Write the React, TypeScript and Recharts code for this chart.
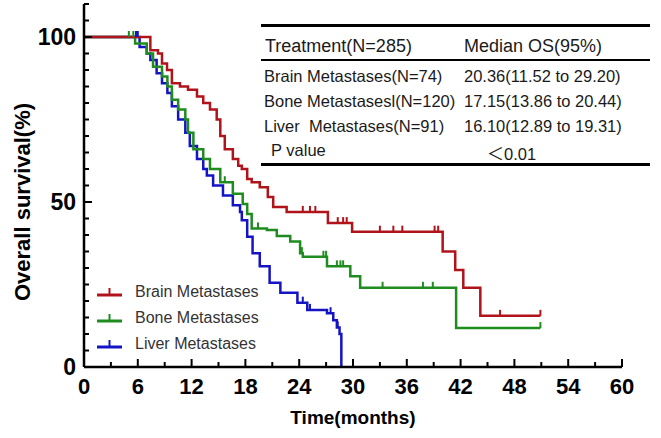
import React from 'react';
import { LineChart, Line, XAxis, YAxis } from 'recharts';

// Kaplan-Meier steps: [month, survival %]
const brainSteps: number[][] = [
  [0, 100], [7.4, 96], [8.25, 95], [8.7, 92], [9.26, 90], [9.8, 86], [10.7, 85], [11.6, 84],
  [12.6, 82], [13.3, 80], [14.05, 78], [14.8, 75], [15.2, 70], [15.7, 66], [16.6, 63],
  [17.2, 61], [17.6, 60], [18.2, 57], [18.7, 56], [19.6, 54.5], [20.5, 51.5], [21.1, 48.5],
  [22.6, 47], [27.2, 43.6], [29.9, 41], [40.0, 35], [41.4, 29.4], [42.3, 24], [44.2, 15.5],
];
const brainCensored: number[] = [24.4, 25.2, 25.8, 28.3, 28.9, 29.3, 33.0, 34.5, 35.5, 39.1, 39.5, 46.4, 50.9];

const boneSteps: number[][] = [
  [0, 100], [5.7, 98], [7.0, 95], [7.7, 91], [8.7, 88], [9.3, 85], [9.8, 81], [10.5, 78],
  [11.3, 75], [11.6, 71], [12.2, 66], [13.3, 63], [14.05, 60], [15.2, 56], [16.6, 52.5],
  [17.7, 49.4], [18.2, 46.4], [18.7, 42], [20.4, 41.5], [21.5, 39.7], [23.0, 38], [24.1, 34.5],
  [24.4, 33.4], [27.1, 30.5], [29.7, 27.5], [30.8, 24], [41.5, 11.8],
];
const boneCensored: number[] = [5.0, 5.5, 15.7, 19.4, 24.3, 26.7, 27.0, 28.2, 28.6, 28.9, 33.3, 37.8, 38.9, 50.9];

const liverSteps: number[][] = [
  [0, 100], [6.2, 97], [7.0, 95], [7.4, 93], [8.1, 89], [8.7, 86], [9.3, 83], [9.8, 79],
  [10.5, 75], [11.3, 71], [11.8, 67], [12.6, 63], [13.3, 60], [13.7, 58], [14.4, 55],
  [15.5, 52], [16.6, 49], [17.4, 47], [17.6, 44.5], [18.2, 39.5], [18.8, 34.5], [19.6, 30.5],
  [20.7, 25.5], [21.9, 22.5], [23.8, 19.5], [24.9, 17.3], [27.1, 16.3], [27.8, 14.2],
  [28.2, 12], [28.5, 10], [28.7, 0],
];
const liverCensored: number[] = [5.8, 6.0, 24.4, 25.2, 27.5, 28.3];

const seriesNames: string[] = ['Brain Metastases', 'Bone Metastases', 'Liver Metastases'];
const seriesColors: string[] = ['#b0141a', '#1e8c1e', '#1414c4'];

const xTicks: number[] = [0, 3, 6, 9, 12, 15, 18, 21, 24, 27, 30, 33, 36, 39, 42, 45, 48, 51, 54, 57, 60];
const yTicks: number[] = [0, 5, 10, 15, 20, 25, 30, 35, 40, 45, 50, 55, 60, 65, 70, 75, 80, 85, 90, 95, 100, 105, 110];

const tableRows: string[][] = [
  ['Brain Metastases(N=74)', '20.36(11.52 to 29.20)'],
  ['Bone Metastasesl(N=120)', '17.15(13.86 to 20.44)'],
  ['Liver  Metastases(N=91)', '16.10(12.89 to 19.31)'],
];

const FONT = '"Liberation Sans", Arial, Helvetica, sans-serif';

function buildSeries(steps: number[][], censored: number[]) {
  const pts = steps.map(([t, s]) => ({ t, s, c: false }));
  censored.forEach((t) => {
    let s = steps[0][1];
    for (const [st, sv] of steps) if (st <= t) s = sv;
    pts.push({ t, s, c: true });
  });
  return pts.sort((a, b) => a.t - b.t);
}

const brainData = buildSeries(brainSteps, brainCensored);
const boneData = buildSeries(boneSteps, boneCensored);
const liverData = buildSeries(liverSteps, liverCensored);

const CensorDot = (props: any) => {
  const { cx, cy, payload, stroke, index } = props;
  if (!payload || !payload.c || cx == null) return <g key={`d${index}`} />;
  return <line key={`d${index}`} x1={cx} x2={cx} y1={cy} y2={cy - 6} stroke={stroke} strokeWidth={2} />;
};

const XTick = (props: any) => {
  const { x, y, payload } = props;
  const major = payload.value % 6 === 0;
  return (
    <g>
      <line x1={x} x2={x} y1={y} y2={y - (major ? 8 : 5)} stroke="#000" strokeWidth={2} />
      {major && (
        <text x={x} y={y + 27} textAnchor="middle" fontSize={22} fontWeight="bold" fontFamily={FONT} fill="#000">
          {payload.value}
        </text>
      )}
    </g>
  );
};

const YTick = (props: any) => {
  const { x, y, payload } = props;
  const major = payload.value % 50 === 0;
  return (
    <g>
      <line x1={x} x2={x + (major ? 8 : 5)} y1={y} y2={y} stroke="#000" strokeWidth={2} />
      {major && (
        <text x={x - 8} y={y + 8} textAnchor="end" fontSize={23} fontWeight="bold" fontFamily={FONT} fill="#000">
          {payload.value}
        </text>
      )}
    </g>
  );
};

const YLabel = (props: any) => {
  const vb = props.viewBox;
  const cx = vb.x + 22;
  const cy = vb.y + (vb.height * 60) / 110;
  return (
    <text x={cx} y={cy} transform={`rotate(-90 ${cx} ${cy})`} textAnchor="middle" dominantBaseline="central"
      fontSize={22} fontWeight="bold" fontFamily={FONT} fill="#000">
      Overall survival(%)
    </text>
  );
};

const XLabel = (props: any) => {
  const vb = props.viewBox;
  return (
    <text x={vb.x + vb.width / 2} y={vb.y + 57} textAnchor="middle" fontSize={19} fontWeight="bold" fontFamily={FONT} fill="#000">
      Time(months)
    </text>
  );
};

export default function App() {
  const cellStyle: React.CSSProperties = { position: 'absolute', fontFamily: FONT, color: '#1a1a1a', whiteSpace: 'pre', lineHeight: 1 };
  return (
    <div style={{ position: 'absolute', left: 0, top: 0, width: 661, height: 438, background: '#fff' }}>
      <LineChart width={661} height={438} margin={{ top: 4, right: 39, bottom: 0, left: 0 }}>
        <XAxis dataKey="t" type="number" domain={[0, 60]} ticks={xTicks} interval={0} height={71}
          axisLine={{ stroke: '#000', strokeWidth: 2.5 }} tickLine={false} tickSize={0} tickMargin={0}
          tick={<XTick />} label={<XLabel />} allowDataOverflow />
        <YAxis type="number" domain={[0, 110]} ticks={yTicks} interval={0} width={84}
          axisLine={{ stroke: '#000', strokeWidth: 2.5 }} tickLine={false} tickSize={0} tickMargin={0}
          tick={<YTick />} label={<YLabel />} />
        <Line data={liverData} dataKey="s" name={seriesNames[2]} type="stepAfter" stroke={seriesColors[2]} strokeWidth={2.5}
          dot={<CensorDot />} activeDot={false} isAnimationActive={false} />
        <Line data={boneData} dataKey="s" name={seriesNames[1]} type="stepAfter" stroke={seriesColors[1]} strokeWidth={2.5}
          dot={<CensorDot />} activeDot={false} isAnimationActive={false} />
        <Line data={brainData} dataKey="s" name={seriesNames[0]} type="stepAfter" stroke={seriesColors[0]} strokeWidth={2.5}
          dot={<CensorDot />} activeDot={false} isAnimationActive={false} />
      </LineChart>

      {/* legend */}
      <div style={{ position: 'absolute', left: 97, top: 279 }}>
        {seriesNames.map((n, i) => (
          <div key={n} style={{ display: 'flex', alignItems: 'center', height: 26 }}>
            <svg width={38} height={14}>
              <line x1={0} x2={25} y1={10} y2={10} stroke={seriesColors[i]} strokeWidth={3} />
              <line x1={12.5} x2={12.5} y1={10} y2={3} stroke={seriesColors[i]} strokeWidth={2} />
            </svg>
            <span style={{ fontFamily: FONT, fontSize: 16, color: '#333' }}>{n}</span>
          </div>
        ))}
      </div>

      {/* median OS table */}
      <div style={{ position: 'absolute', left: 261, top: 24, width: 389, height: 2.5, background: '#000' }} />
      <div style={{ ...cellStyle, left: 265, top: 37, fontSize: 18 }}>Treatment(N=285)</div>
      <div style={{ ...cellStyle, left: 464, top: 37, fontSize: 18 }}>Median OS(95%)</div>
      <div style={{ position: 'absolute', left: 261, top: 59, width: 389, height: 2, background: '#000' }} />
      {tableRows.map((r, i) => (
        <React.Fragment key={r[0]}>
          <div style={{ ...cellStyle, left: 264, top: 68 + i * 25, fontSize: 16.5 }}>{r[0]}</div>
          <div style={{ ...cellStyle, left: 464, top: 68 + i * 25, fontSize: 16.5 }}>{r[1]}</div>
        </React.Fragment>
      ))}
      <div style={{ ...cellStyle, left: 271, top: 142, fontSize: 16.5 }}>P value</div>
      <div style={{ ...cellStyle, left: 487, top: 144, fontSize: 16.5 }}>
        <span style={{ fontFamily: '"Noto Sans CJK SC", sans-serif', fontSize: 17 }}>{'＜'}</span>0.01
      </div>
      <div style={{ position: 'absolute', left: 261, top: 163, width: 389, height: 2.5, background: '#000' }} />
    </div>
  );
}
